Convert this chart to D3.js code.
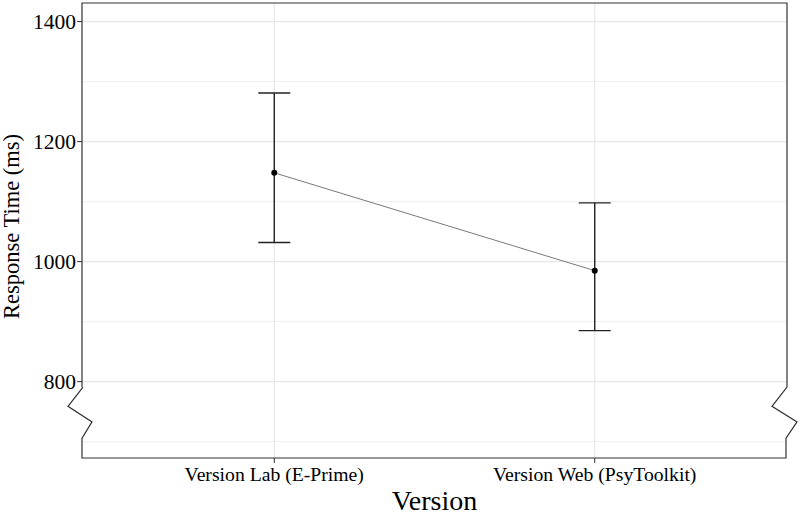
<!DOCTYPE html>
<html><head><meta charset="utf-8">
<script src="https://cdn.jsdelivr.net/npm/d3@7"></script>
<style>body{margin:0;background:#fff}svg{display:block}text{font-family:"Liberation Serif","Times New Roman",serif;fill:#000}</style>
</head><body>
<script>
const categories = ["Version Lab (E-Prime)", "Version Web (PsyToolkit)"];
const means = [1148, 985];
const upper = [1281, 1098];
const lower = [1032, 885];
const majorTicks = [800, 1000, 1200, 1400];
const minorTicks = [700, 900, 1100, 1300];

const W = 800, H = 515;
const L = 82, R = 787, T = 3, B = 458;
const svg = d3.select("body").append("svg").attr("width", W).attr("height", H);

const x = d3.scalePoint().domain(categories).range([L, R]).padding(0.6);
const y = d3.scaleLinear().domain([672.8, 1431]).range([B, T]);

const data = categories.map((c, i) => ({c, m: means[i], u: upper[i], l: lower[i]}));

// grid
const g = svg.append("g");
g.selectAll(".minor").data(minorTicks).join("line")
  .attr("x1", L).attr("x2", R).attr("y1", d => y(d)).attr("y2", d => y(d))
  .attr("stroke", "#ebebeb").attr("stroke-width", 0.8);
g.selectAll(".major").data(majorTicks).join("line")
  .attr("x1", L).attr("x2", R).attr("y1", d => y(d)).attr("y2", d => y(d))
  .attr("stroke", "#e6e6e6").attr("stroke-width", 1.1);
g.selectAll(".vmajor").data(categories).join("line")
  .attr("x1", d => x(d)).attr("x2", d => x(d)).attr("y1", T).attr("y2", B)
  .attr("stroke", "#e6e6e6").attr("stroke-width", 1.1);

// connecting line
svg.append("path").datum(data)
  .attr("d", d3.line().x(d => x(d.c)).y(d => y(d.m)))
  .attr("fill", "none").attr("stroke", "#7a7a7a").attr("stroke-width", 1);

// error bars
const eb = svg.append("g").attr("stroke", "#222").attr("stroke-width", 1.4);
eb.selectAll(".v").data(data).join("line")
  .attr("x1", d => x(d.c)).attr("x2", d => x(d.c)).attr("y1", d => y(d.u)).attr("y2", d => y(d.l));
eb.selectAll(".tu").data(data).join("line")
  .attr("x1", d => x(d.c) - 16).attr("x2", d => x(d.c) + 16).attr("y1", d => y(d.u)).attr("y2", d => y(d.u));
eb.selectAll(".tl").data(data).join("line")
  .attr("x1", d => x(d.c) - 16).attr("x2", d => x(d.c) + 16).attr("y1", d => y(d.l)).attr("y2", d => y(d.l));

svg.selectAll(".pt").data(data).join("circle")
  .attr("cx", d => x(d.c)).attr("cy", d => y(d.m)).attr("r", 3).attr("fill", "#000");

// panel border with axis-break zigzags
const yb1 = y(791), yb2 = y(759), yb3 = y(733), yb4 = y(706);
const border = `M${L},${yb1} L${L},${T} L${R},${T} L${R},${yb1} L${R-15},${yb2} L${R+10},${yb3} L${R-1},${yb4} L${R-1},${B} L${L},${B} L${L},${yb4} L${L+10},${yb3} L${L-14},${yb2} L${L+1},${yb1}`;
svg.append("path").attr("d", border).attr("fill", "none").attr("stroke", "#333").attr("stroke-width", 1.2);

// y ticks
svg.selectAll(".yt").data(majorTicks).join("line")
  .attr("x1", L - 5).attr("x2", L).attr("y1", d => y(d)).attr("y2", d => y(d))
  .attr("stroke", "#333").attr("stroke-width", 1);
svg.selectAll(".yl").data(majorTicks).join("text")
  .attr("x", L - 6).attr("y", d => y(d)).attr("dy", "0.35em").attr("text-anchor", "end")
  .attr("font-size", 21.5).text(d => d);

// x ticks
svg.selectAll(".xt").data(categories).join("line")
  .attr("x1", d => x(d)).attr("x2", d => x(d)).attr("y1", B).attr("y2", B + 5)
  .attr("stroke", "#333").attr("stroke-width", 1);
svg.selectAll(".xl").data(categories).join("text")
  .attr("x", d => x(d)).attr("y", 481).attr("text-anchor", "middle")
  .attr("font-size", 19.7).text(d => d);

svg.append("text").attr("x", (L + R) / 2).attr("y", 510).attr("text-anchor", "middle")
  .attr("font-size", 28).text("Version");
svg.append("text").attr("transform", `translate(19,${(T + B) / 2 - 4}) rotate(-90)`)
  .attr("text-anchor", "middle").attr("font-size", 22.5).text("Response Time (ms)");
</script>
</body></html>
